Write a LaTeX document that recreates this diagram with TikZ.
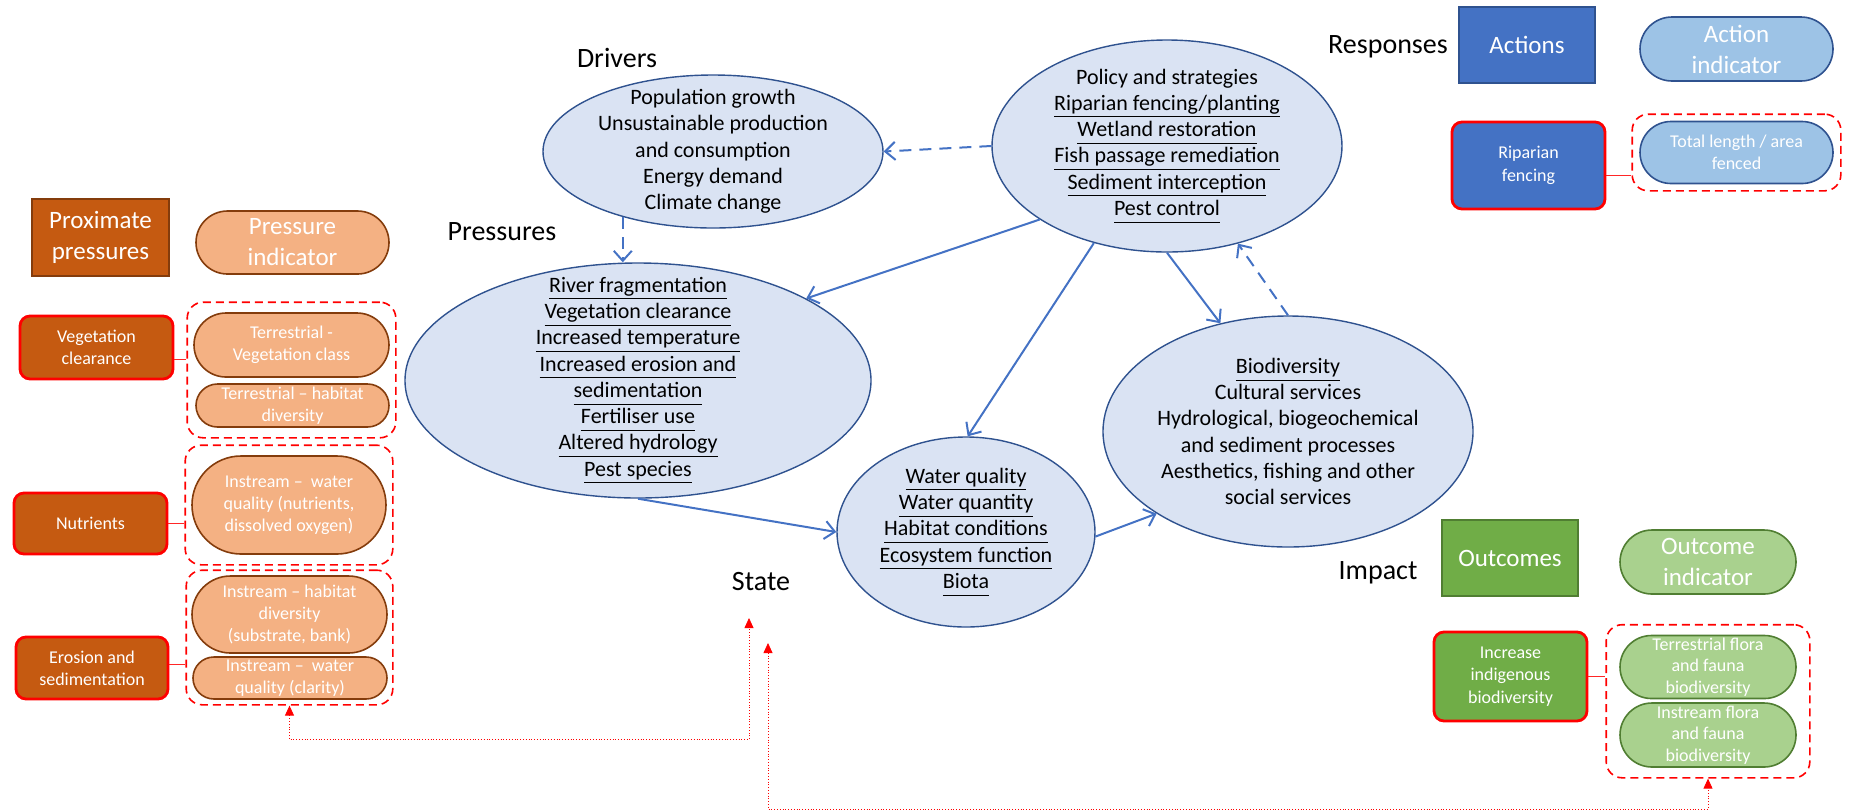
\documentclass[tikz,border=0pt]{standalone}
\usepackage{fontspec}
\setmainfont{Carlito}
\usetikzlibrary{shapes.geometric,arrows.meta,fit}

\definecolor{ellfill}{HTML}{DAE3F3}
\definecolor{elldraw}{HTML}{2F528F}
\definecolor{arrblue}{HTML}{4472C4}
\definecolor{orgdark}{HTML}{C55A11}
\definecolor{orgline}{HTML}{843C0C}
\definecolor{orglight}{HTML}{F4B183}
\definecolor{bluedark}{HTML}{4472C4}
\definecolor{bluelight}{HTML}{9DC3E6}
\definecolor{greendark}{HTML}{70AD47}
\definecolor{greenline}{HTML}{507E32}
\definecolor{greenlight}{HTML}{A9D18E}

\newcommand{\undl}[1]{\underline{\vphantom{g}#1}}

\tikzset{
  ell/.style={ellipse, draw=elldraw, fill=ellfill, line width=0.7pt, inner sep=0pt},
  elltext/.style={align=center, inner sep=0pt, font=\fontsize{11}{13.15}\selectfont},
  dpsir/.style={font=\fontsize{14}{16}\selectfont},
  flow/.style={draw=arrblue, line width=1pt, -{Straight Barb[length=5pt,width=9pt]}},
  fback/.style={flow, dash pattern=on 6pt off 4pt},
  headbox/.style={rectangle, text=white, align=center, inner sep=0pt, line width=0.6pt,
    font=\fontsize{12.5}{15.5}\selectfont},
  itembox/.style={rectangle, rounded corners=5pt, draw=red, line width=1.4pt, text=white,
    align=center, inner sep=0pt, font=\fontsize{9}{11.2}\selectfont},
  pill/.style={rectangle, rounded corners=#1/2, minimum height=#1, inner sep=0pt,
    text=white, align=center, line width=0.8pt},
  smalltext/.style={font=\fontsize{9}{11}\selectfont},
  bigtext/.style={font=\fontsize{12.5}{15.5}\selectfont},
  grp/.style={draw=red, rounded corners=8pt, dash pattern=on 4pt off 2.5pt, line width=0.8pt},
  link/.style={draw=red!85, line width=0.4pt},
  track/.style={draw=red, line width=0.4pt, densely dotted,
    {Triangle[length=5pt,width=4.5pt]}-{Triangle[length=5pt,width=4.5pt]}},
}

\begin{document}
\begin{tikzpicture}[x=0.5pt,y=-0.5pt]
\useasboundingbox (0,0) rectangle (1849,811);

% stage labels
\node[dpsir] (lbldrv) at (617,58) {Drivers};
\node[dpsir] (lblprs) at (502,232) {Pressures};
\node[dpsir] (lblres) at (1388,47) {Responses};
\node[dpsir] (lblsta) at (761,582) {State};
\node[dpsir] (lblimp) at (1378,573) {Impact};

% DPSIR ellipses
\node[ell, minimum width=170pt, minimum height=76.5pt,
  label={[elltext]center:Population growth\\Unsustainable production\\and consumption\\Energy demand\\Climate change}]
  (drv) at (713,151.5) {};
\node[ell, minimum width=175pt, minimum height=106pt,
  label={[elltext]center:Policy and strategies\\\undl{Riparian fencing/planting}\\\undl{Wetland restoration}\\\undl{Fish passage remediation}\\\undl{Sediment interception}\\\undl{Pest control}}]
  (pol) at (1167,146) {};
\node[ell, minimum width=233pt, minimum height=117.5pt,
  label={[elltext]center:\undl{River fragmentation}\\\undl{Vegetation clearance}\\\undl{Increased temperature}\\\undl{Increased erosion and}\\\undl{sedimentation}\\\undl{Fertiliser use}\\\undl{Altered hydrology}\\\undl{Pest species}}]
  (prs) at (638,380.5) {};
\node[ell, minimum width=129pt, minimum height=95pt,
  label={[elltext]center:\undl{Water quality}\\\undl{Water quantity}\\\undl{Habitat conditions}\\\undl{Ecosystem function}\\\undl{Biota}}]
  (sta) at (966,532) {};
\node[ell, minimum width=185pt, minimum height=115.5pt,
  label={[elltext]center:\undl{Biodiversity}\\Cultural services\\Hydrological, biogeochemical\\and sediment processes\\Aesthetics, fishing and other\\social services}]
  (bio) at (1288,431.5) {};

% links between stages
\draw[fback] (pol.west) -- (drv.east);
\draw[fback] (drv.216) -- (drv.216 |- prs.north);
\draw[flow] (pol.210) -- (prs.26);
\draw[flow] (pol.233) -- (sta.89);
\draw[flow] (pol.270) -- (bio.122);
\draw[fback] (bio.90) -- (pol.306);
\draw[flow] (prs.270) -- (sta.180);
\draw[flow] (sta.358) -- (bio.212);

% pressures and indicators
\node[headbox, fill=orgdark, draw=orgline, minimum width=68.5pt, minimum height=38.5pt]
  (prox) at (100.5,237.5) {Proximate\\pressures};
\node[pill=31.5pt, bigtext, fill=orglight, draw=orgline, minimum width=96.5pt]
  (pind) at (292.5,242.5) {Pressure\\indicator};
\node[itembox, fill=orgdark, minimum width=76.5pt, minimum height=31.5pt]
  (veg) at (96.5,347.5) {Vegetation\\clearance};
\node[itembox, fill=orgdark, minimum width=76.5pt, minimum height=30.5pt]
  (nut) at (90.5,523.5) {Nutrients};
\node[itembox, fill=orgdark, minimum width=76pt, minimum height=31pt]
  (ero) at (92,668) {Erosion and\\sedimentation};
\node[pill=32pt, smalltext, fill=orglight, draw=orgline, minimum width=97.5pt]
  (tveg) at (291.5,345) {Terrestrial -\\Vegetation class};
\node[pill=21.5pt, smalltext, fill=orglight, draw=orgline, minimum width=96.5pt]
  (thab) at (292.5,405.5) {Terrestrial -- habitat\\diversity};
\node[pill=49pt, smalltext, fill=orglight, draw=orgline, minimum width=97pt]
  (iwq) at (289,505) {Instream --\ \ water\\quality (nutrients,\\dissolved oxygen)};
\node[pill=38.5pt, smalltext, fill=orglight, draw=orgline, minimum width=97.5pt]
  (ihab) at (289.5,614.5) {Instream -- habitat\\diversity\\(substrate, bank)};
\node[pill=21pt, smalltext, fill=orglight, draw=orgline, minimum width=97pt]
  (icla) at (290,678) {Instream --\ \ water\\quality (clarity)};
\node[grp, fit=(tveg)(thab), inner xsep=3pt, inner ysep=5pt] (grpA) {};
\node[grp, fit=(iwq), inner xsep=3pt, inner ysep=5pt] (grpB) {};
\node[grp, fit=(ihab)(icla), inner sep=2.5pt] (grpC) {};
\draw[link] ([yshift=-6pt]veg.east) -- ([yshift=-6pt]veg.east -| grpA.west);
\draw[link] (nut.east) -- (nut.east -| grpB.west);
\draw[link] ([yshift=2pt]ero.east) -- ([yshift=2pt]ero.east -| grpC.west);

% actions and indicators
\node[headbox, fill=bluedark, draw=elldraw, minimum width=68pt, minimum height=38pt]
  (act) at (1527,45) {Actions};
\node[pill=32pt, bigtext, fill=bluelight, draw=elldraw, minimum width=96.5pt]
  (aind) at (1736.5,49) {Action\\indicator};
\node[itembox, fill=bluedark, minimum width=76.5pt, minimum height=43.5pt]
  (rip) at (1528.5,165.5) {Riparian\\fencing};
\node[pill=31pt, smalltext, fill=bluelight, draw=elldraw, minimum width=96.5pt]
  (tlen) at (1736.5,152.5) {Total length / area\\fenced};
\node[grp, fit=(tlen), inner xsep=3.5pt, inner ysep=3.25pt] (grpD) {};
\draw[link] ([yshift=-4.75pt]rip.east) -- ([yshift=-4.75pt]rip.east -| grpD.west);

% outcomes and indicators
\node[headbox, fill=greendark, draw=greenline, minimum width=68pt, minimum height=38pt]
  (outc) at (1510,558) {Outcomes};
\node[pill=32pt, bigtext, fill=greenlight, draw=greenline, minimum width=88pt]
  (oind) at (1708,562) {Outcome\\indicator};
\node[itembox, fill=greendark, minimum width=76.5pt, minimum height=44.5pt]
  (incr) at (1510.5,676.5) {Increase\\indigenous\\biodiversity};
\node[pill=31.5pt, font=\fontsize{9}{10.7}\selectfont, fill=greenlight, draw=greenline, minimum width=88pt]
  (tflo) at (1708,667) {Terrestrial flora\\and fauna\\biodiversity};
\node[pill=32pt, font=\fontsize{9}{10.7}\selectfont, fill=greenlight, draw=greenline, minimum width=88pt]
  (iflo) at (1708,735) {Instream flora\\and fauna\\biodiversity};
\node[grp, fit=(tflo)(iflo), inner xsep=6.5pt, inner ysep=5pt] (grpE) {};
\draw[link] (incr.east) -- (incr.east -| grpE.west);

% red tracking lines
\coordinate (stA) at (749,618);
\coordinate (stB) at (768,643);
\draw[track] (grpC.south) -- ++(0,34) -| (stA);
\draw[track] (stB) -- ++(0,166) -| (grpE.south);
\end{tikzpicture}
\end{document}
